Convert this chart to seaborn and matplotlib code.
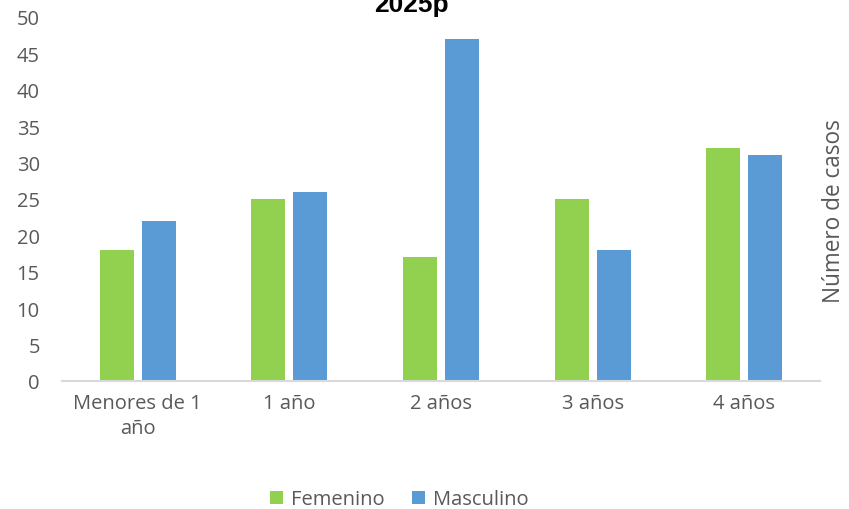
import pandas as pd
import matplotlib.pyplot as plt
import seaborn as sns

# data
categorias = ["Menores de 1\naño", "1 año", "2 años", "3 años", "4 años"]
femenino = [18, 25, 17, 25, 32]
masculino = [22, 26, 47, 18, 31]
y_ticks = list(range(0, 55, 5))

df = pd.DataFrame({
    "Edad": categorias * 2,
    "Sexo": ["Femenino"] * len(categorias) + ["Masculino"] * len(categorias),
    "Casos": femenino + masculino,
})

sns.set_theme(style="white")
plt.rcParams["font.family"] = ["Open Sans", "DejaVu Sans"]
gris = "#595959"

fig = plt.figure(figsize=(8.49, 5.1), dpi=100)
ax = fig.add_axes([0.073, 0.251, 0.893, 0.714])

sns.barplot(
    data=df, x="Edad", y="Casos", hue="Sexo",
    palette={"Femenino": "#92D050", "Masculino": "#5B9BD5"},
    width=0.553, gap=0.19, saturation=1, linewidth=0, ax=ax, legend=True,
)

ax.set_xlim(-0.5, 4.5)
ax.set_ylim(0, 50)
ax.set_yticks(y_ticks)
ax.tick_params(axis="both", colors=gris, labelsize=14.5, length=0)
ax.tick_params(axis="x", pad=9)
ax.tick_params(axis="y", pad=16)
for lbl in ax.get_xticklabels():
    lbl.set_linespacing(1.3)
ax.set_xlabel("")
ax.yaxis.set_label_position("right")
ax.set_ylabel("Número de casos", color=gris, fontsize=16.3)
ax.yaxis.set_label_coords(1.002, 0.47)
sns.despine(ax=ax, left=True, top=True, right=True)
ax.spines["bottom"].set_color("#D9D9D9")
ax.spines["bottom"].set_linewidth(1.5)

leg = ax.legend(loc="center", bbox_to_anchor=(0.445, -0.325), ncol=2, frameon=False,
                fontsize=14.5, handlelength=0.6, handleheight=0.6, columnspacing=1.4,
                handletextpad=0.4)
for t in leg.get_texts():
    t.set_color(gris)

fig.text(0.485, 0.976, "2025p", ha="center", va="baseline",
         fontsize=19, fontweight="bold", color="black", family="Liberation Sans")

fig.savefig("out.png", dpi=100)
